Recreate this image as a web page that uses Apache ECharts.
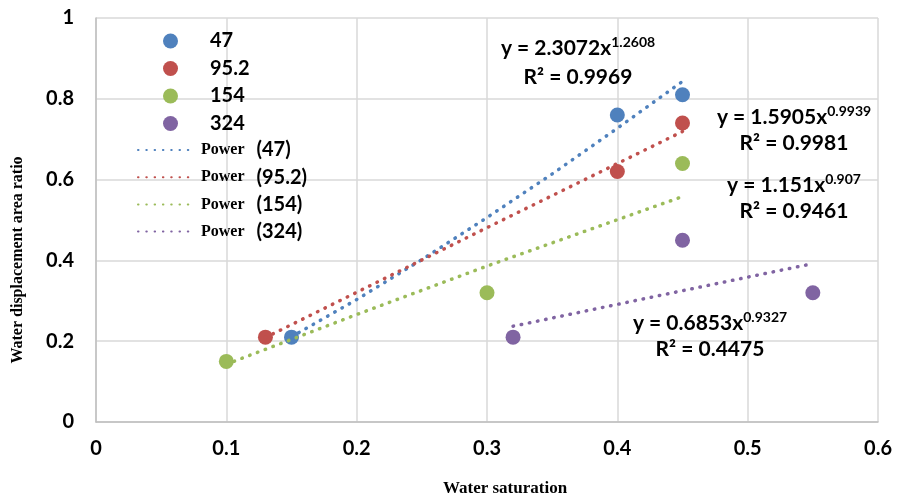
<!DOCTYPE html>
<html><head><meta charset="utf-8">
<script src="https://cdn.jsdelivr.net/npm/echarts@6/dist/echarts.min.js"></script>
<style>html,body{margin:0;padding:0;background:#fff}#c{width:901px;height:501px}</style>
</head><body><div id="c"></div>
<script>
const groupNames = ['47', '95.2', '154', '324'];
const colors = ['#4F81BD', '#C0504D', '#9BBB59', '#8064A2'];
const points47 = [[0.15, 0.21], [0.40, 0.76], [0.45, 0.81]];
const points95 = [[0.13, 0.21], [0.40, 0.62], [0.45, 0.74]];
const points154 = [[0.10, 0.15], [0.30, 0.32], [0.45, 0.64]];
const points324 = [[0.32, 0.21], [0.45, 0.45], [0.55, 0.32]];
const trend47 = [[0.15, 0.211], [0.20, 0.303], [0.25, 0.402], [0.30, 0.506], [0.35, 0.614], [0.40, 0.727], [0.45, 0.843]];
const trend95 = [[0.13, 0.209], [0.30, 0.481], [0.45, 0.719]];
const trend154 = [[0.10, 0.143], [0.20, 0.266], [0.30, 0.386], [0.45, 0.558]];
const trend324 = [[0.32, 0.237], [0.45, 0.325], [0.55, 0.392]];
const equations = [
  {a: '2.3072', b: '1.2608', r2: '0.9969'},
  {a: '1.5905', b: '0.9939', r2: '0.9981'},
  {a: '1.151', b: '0.907', r2: '0.9461'},
  {a: '0.6853', b: '0.9327', r2: '0.4475'}
];
const xTicks = [0, 0.1, 0.2, 0.3, 0.4, 0.5, 0.6];
const yTicks = [0, 0.2, 0.4, 0.6, 0.8, 1];

const pointSets = [points47, points95, points154, points324];
const trendSets = [trend47, trend95, trend154, trend324];
const SANS = 'Lato, "Open Sans", sans-serif';
const SERIF = '"Liberation Serif", "DejaVu Serif", serif';

const series = [];
pointSets.forEach((d, i) => series.push({
  name: groupNames[i], type: 'scatter', data: d, symbol: 'circle', symbolSize: 15,
  itemStyle: {color: colors[i], opacity: 1}, z: 3
}));
trendSets.forEach((d, i) => series.push({
  name: 'Power (' + groupNames[i] + ')', type: 'line', data: d, symbol: 'none', smooth: false,
  lineStyle: {color: colors[i], width: 3.5, type: [0.5, 7.8], cap: 'round'},
  itemStyle: {color: colors[i]}, z: 4
}));

const eqPos = [[578, 48, 77], [794, 117, 143], [794, 185, 211], [710, 323, 349]];
const graphics = [];
equations.forEach((e, i) => {
  const p = eqPos[i];
  graphics.push({
    type: 'text', x: p[0], y: p[1], z: 100, style: {
      text: '{m|y = ' + e.a + 'x}{s|' + e.b + '}',
      align: 'center', verticalAlign: 'middle',
      rich: {
        m: {fontFamily: SANS, fontWeight: 'bold', fontSize: 21, fill: '#000', lineHeight: 24},
        s: {fontFamily: SANS, fontWeight: 'bold', fontSize: 14, fill: '#000', lineHeight: 24, padding: [0, 0, 12, 0]}
      }
    }
  });
  graphics.push({
    type: 'text', x: p[0], y: p[2], z: 100, style: {
      text: 'R² = ' + e.r2, fontFamily: SANS, fontWeight: 'bold', fontSize: 21, fill: '#000',
      align: 'center', verticalAlign: 'middle'
    }
  });
});
graphics.push({type: 'text', x: 505, y: 489, z: 100, style: {text: 'Water saturation', fontFamily: SERIF, fontWeight: 'bold', fontSize: 17, fill: '#000', align: 'center', verticalAlign: 'middle'}});
graphics.push({type: 'text', x: 18, y: 260, z: 100, rotation: Math.PI / 2, style: {text: 'Water displacement area ratio', fontFamily: SERIF, fontWeight: 'bold', fontSize: 16, fill: '#000', align: 'center', verticalAlign: 'middle'}});

const chart = echarts.init(document.getElementById('c'), null, {renderer: 'canvas'});
chart.setOption({
  animation: false,
  backgroundColor: '#fff',
  grid: {left: 96, right: 23, top: 18, bottom: 79, containLabel: false},
  xAxis: {
    type: 'value', min: xTicks[0], max: xTicks[xTicks.length - 1], interval: 0.1,
    axisLine: {show: true, lineStyle: {color: '#BFBFBF', width: 1.5}},
    axisTick: {show: false},
    splitLine: {show: true, lineStyle: {color: '#D9D9D9', width: 1.5}},
    axisLabel: {color: '#000', fontFamily: SANS, fontWeight: 'bold', fontSize: 20, margin: 17,
      formatter: v => String(Math.round(v * 10) / 10)}
  },
  yAxis: {
    type: 'value', min: yTicks[0], max: yTicks[yTicks.length - 1], interval: 0.2,
    axisLine: {show: true, lineStyle: {color: '#BFBFBF', width: 1.5}},
    axisTick: {show: false},
    splitLine: {show: true, lineStyle: {color: '#D9D9D9', width: 1.5}},
    axisLabel: {color: '#000', fontFamily: SANS, fontWeight: 'bold', fontSize: 20, margin: 22,
      formatter: v => String(Math.round(v * 10) / 10)}
  },
  legend: [
    {
      data: groupNames, orient: 'vertical', left: 163, top: 31, padding: 0, itemWidth: 15, itemHeight: 15, itemGap: 7.5,
      icon: 'circle',
      textStyle: {color: '#000', fontFamily: SANS, fontWeight: 'bold', fontSize: 20, lineHeight: 20, padding: [0, 0, 0, 27]}
    },
    {
      data: groupNames.map(n => 'Power (' + n + ')'), orient: 'vertical', left: 137, top: 140, padding: 0,
      itemWidth: 51, itemHeight: 14, itemGap: 7.2,
      itemStyle: {opacity: 0},
      formatter: n => n.replace(/^Power \((.*)\)$/, '{p|Power}{n|($1)}'),
      textStyle: {padding: [0, 0, 0, 7], lineHeight: 20, rich: {
        p: {fontFamily: SERIF, fontWeight: 'bold', fontSize: 16, color: '#000', lineHeight: 20},
        n: {fontFamily: SANS, fontWeight: 'bold', fontSize: 20, color: '#000', lineHeight: 20, padding: [0, 0, 0, 12]}
      }}
    }
  ],
  series: series,
  graphic: graphics
});
</script></body></html>
